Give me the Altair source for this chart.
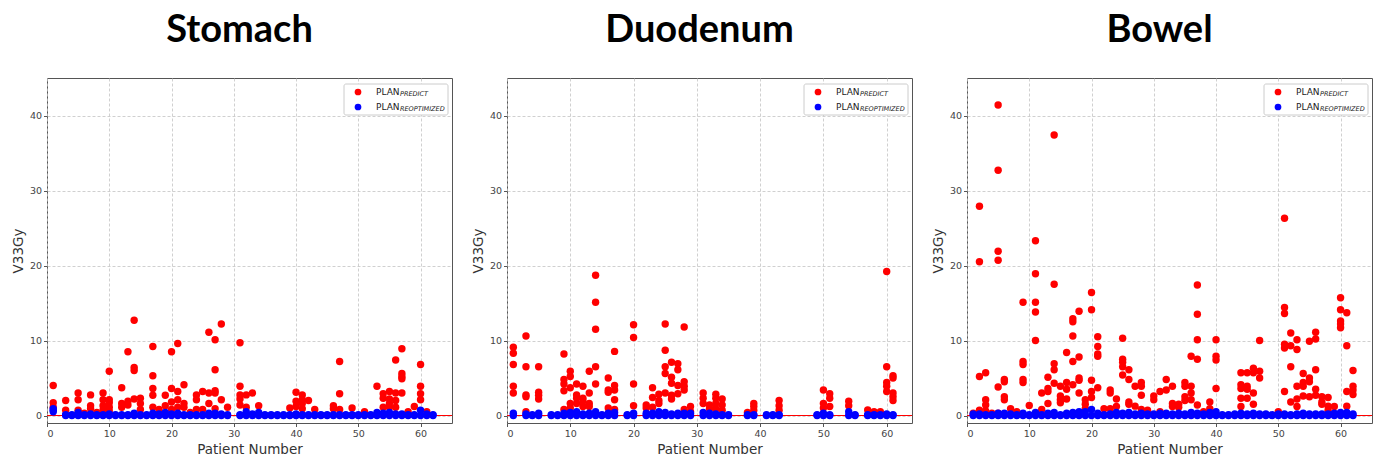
import altair as alt
import pandas as pd

ORGANS = ["Stomach", "Duodenum", "Bowel"]
PATIENT_TICKS = [0, 10, 20, 30, 40, 50, 60]
V33_TICKS = [0, 10, 20, 30, 40]
X_MAX = {"Stomach": 65.05, "Duodenum": 64.0, "Bowel": 65.05}
Y_DOMAIN = [-1, 45]
LEGEND_MAIN = ["PLAN", "PLAN"]
LEGEND_SUB = ["PREDICT", "REOPTIMIZED"]
SERIES_COLORS = ["#ff0000", "#0000ff"]

# ---- Stomach ----
STOMACH_PREDICT = {
    1: [4.0, 1.7, 1.1], 3: [2.0, 0.7], 5: [3.0, 2.1, 0.7], 6: [0.3],
    7: [2.75, 1.3, 0.9], 8: [0.4], 9: [3.0, 2.1, 1.3, 0.7],
    10: [5.9, 2.1, 1.7, 1.1, 0.6], 12: [3.7, 1.6, 1.1], 13: [8.5, 1.9, 1.4],
    14: [12.7, 6.4, 6.0, 2.2], 15: [2.3, 1.6, 0.8], 17: [9.2, 5.3, 3.6, 2.7, 1.1],
    18: [0.8], 19: [2.7, 1.3], 20: [8.5, 3.6, 1.8, 0.8], 21: [9.6, 3.2, 2.1, 1.1],
    22: [4.1, 1.6, 1.1], 23: [0.4], 24: [2.75, 2.1, 0.8], 25: [3.2, 0.8],
    26: [11.1, 3.0, 1.6], 27: [10.1, 6.1, 3.3, 3.0, 0.9], 28: [12.2, 2.1],
    29: [1.1], 31: [9.7, 3.9, 2.75, 2.2, 1.4], 32: [2.75, 1.1], 33: [3.0],
    34: [1.3], 39: [1.0], 40: [3.1, 1.9, 1.2], 41: [2.75, 2.1, 1.6, 0.9],
    42: [2.0], 43: [0.8], 46: [1.3, 0.9], 47: [7.2, 2.9, 0.8], 49: [1.0],
    51: [0.5], 53: [3.9], 54: [2.9, 2.3, 1.1], 55: [3.2, 2.2, 1.6, 1.1],
    56: [7.4, 3.0, 2.0, 1.1], 57: [8.9, 5.6, 5.2, 4.9, 3.0], 58: [0.5],
    59: [1.2], 60: [6.8, 3.9, 2.9, 2.1], 61: [0.5],
}
STOMACH_REOPT = {
    1: [0.5, 0.7, 0.9], 3: [0.0, 0.1], 4: [0.0, 0.1], 5: [0.0, 0.4], 6: [0.0, 0.1],
    7: [0.0, 0.2], 8: [0.0, 0.1], 9: [0.0, 0.1], 10: [0.0, 0.2], 11: [0.0, 0.1],
    12: [0.0, 0.1], 13: [0.0, 0.1], 14: [0.0, 0.3], 15: [0.0, 0.1], 16: [0.0, 0.1],
    17: [0.0, 0.3], 18: [0.0, 0.2], 19: [0.0, 0.4], 20: [0.0, 0.2], 21: [0.0, 0.3],
    22: [0.0, 0.1], 23: [0.0, 0.1], 24: [0.0, 0.1], 25: [0.0, 0.1], 26: [0.0, 0.3],
    27: [0.0, 0.3], 28: [0.0, 0.2], 29: [0.0, 0.1], 31: [0.0, 0.1], 32: [0.0, 0.5],
    33: [0.0, 0.2], 34: [0.0, 0.4], 35: [0.0, 0.1], 36: [0.0, 0.1], 37: [0.0, 0.1],
    38: [0.0, 0.1], 39: [0.0, 0.1], 40: [0.0, 0.2], 41: [0.0, 0.1], 42: [0.0, 0.1],
    43: [0.0, 0.1], 44: [0.0, 0.1], 45: [0.0, 0.1], 46: [0.0, 0.1], 47: [0.0, 0.1],
    48: [0.0, 0.1], 49: [0.0, 0.1], 50: [0.0, 0.1], 51: [0.0, 0.1], 52: [0.0, 0.1],
    53: [0.0, 0.4], 54: [0.0, 0.3], 55: [0.0, 0.4], 56: [0.0, 0.2], 57: [0.0, 0.2],
    58: [0.0, 0.1], 59: [0.0, 0.1], 60: [0.0, 0.7], 61: [0.0, 0.2], 62: [0.0, 0.1],
}

# ---- Duodenum ----
DUODENUM_PREDICT = {
    1: [9.1, 8.3, 6.8, 3.9, 3.0], 3: [10.6, 6.5, 2.75, 2.5, 0.5],
    5: [6.5, 3.1, 2.7, 2.2], 9: [8.2, 4.8, 4.2, 3.3, 0.8],
    10: [5.9, 5.2, 3.7, 1.6, 1.0], 11: [4.2, 2.75, 2.3, 1.6],
    12: [3.9, 2.3, 1.9, 1.2], 13: [5.9, 3.0, 1.6, 1.2],
    14: [18.7, 15.1, 11.5, 6.5, 4.2], 16: [5.0, 3.4, 3.1, 1.0],
    17: [8.55, 4.0, 3.4, 2.1, 0.8], 20: [12.1, 10.4, 4.2, 1.3],
    22: [1.4, 1.0], 23: [3.7, 2.4, 1.1], 24: [2.85, 2.0, 1.6],
    25: [12.2, 8.7, 6.5, 5.6, 3.0], 26: [7.1, 5.1, 4.3, 2.7, 2.2],
    27: [6.9, 6.1, 4.0, 2.9], 28: [11.8, 4.5, 3.9, 3.4, 0.8], 29: [1.2, 0.5],
    31: [3.0, 2.3, 1.6], 32: [1.4, 0.9], 33: [2.85, 2.3, 1.6, 0.9],
    34: [2.2, 1.4, 0.7], 38: [0.4], 39: [1.6, 1.2, 0.7], 43: [2.0, 1.3, 0.7],
    50: [3.4, 1.6, 1.0], 51: [2.9, 2.3, 1.2], 54: [1.9, 1.3], 57: [0.75],
    58: [0.5], 59: [0.5], 60: [19.2, 6.5, 4.4, 3.9, 3.2],
    61: [5.3, 5.0, 3.0, 2.5, 2.0],
}
DUODENUM_REOPT = {
    1: [0.0, 0.3], 3: [0.0, 0.2], 4: [0.0, 0.1], 5: [0.0, 0.3], 7: [0.0, 0.1],
    8: [0.0, 0.1], 9: [0.0, 0.3], 10: [0.0, 0.4], 11: [0.0, 0.5], 12: [0.0, 0.2],
    13: [0.0, 0.3], 14: [0.0, 0.5], 15: [0.0, 0.1], 16: [0.0, 0.3], 17: [0.0, 0.4],
    19: [0.0, 0.1], 20: [0.0, 0.3], 22: [0.0, 0.3], 23: [0.0, 0.3], 24: [0.0, 0.5],
    25: [0.0, 0.4], 26: [0.0, 0.2], 27: [0.0, 0.3], 28: [0.0, 0.3], 29: [0.0, 0.3],
    31: [0.0, 0.4], 32: [0.0, 0.3], 33: [0.0, 0.2], 34: [0.0, 0.1], 35: [0.0, 0.1],
    38: [0.0, 0.1], 39: [0.0, 0.1], 41: [0.0, 0.1], 42: [0.0, 0.1], 43: [0.0, 0.1],
    49: [0.0, 0.1], 50: [0.0, 0.3], 51: [0.0, 0.1], 54: [0.0, 0.5], 55: [0.0, 0.1],
    57: [0.0, 0.1], 58: [0.0, 0.1], 59: [0.0, 0.1], 60: [0.0, 0.2], 61: [0.0, 0.1],
}

# ---- Bowel ----
BOWEL_PREDICT = {
    1: [0.3], 2: [27.9, 20.5, 5.2, 0.7], 3: [5.7, 2.1, 1.4, 0.6], 4: [0.3],
    5: [41.4, 32.7, 21.9, 20.7, 3.8, 0.3], 6: [4.8, 4.5, 2.5, 2.1], 7: [0.9],
    8: [0.5], 9: [15.1, 7.2, 6.8, 4.8, 4.4], 10: [1.35],
    11: [23.3, 18.9, 15.1, 13.8, 10.0], 12: [3.0, 0.8], 13: [5.1, 3.6, 3.2, 1.6],
    14: [37.4, 17.5, 6.9, 6.1, 4.3], 15: [3.9, 2.6, 2.1, 1.7],
    16: [8.4, 4.4, 3.5, 2.2], 17: [12.9, 12.5, 10.6, 7.2, 4.1],
    18: [13.9, 7.8, 5.0, 4.7, 3.0], 19: [2.1, 1.5, 0.9],
    20: [16.4, 14.1, 4.7, 3.2, 2.4], 21: [10.5, 9.2, 8.2, 7.9, 3.7], 22: [0.9],
    23: [3.4, 3.0, 0.9], 24: [2.2, 1.2], 25: [10.3, 7.5, 7.1, 6.5, 5.4],
    26: [6.1, 4.8, 1.8, 1.5], 27: [3.9, 1.25], 28: [4.4, 3.9, 2.7, 0.8],
    29: [0.7], 30: [2.6, 2.1], 31: [3.2, 0.5], 32: [4.8, 3.4],
    33: [3.9, 1.6, 1.2], 34: [1.5, 1.1], 35: [4.4, 3.9, 2.5, 2.0],
    36: [7.9, 3.9, 3.0, 2.1], 37: [17.4, 13.5, 10.1, 7.5, 1.4], 38: [0.5],
    39: [1.8, 0.9], 40: [10.1, 7.9, 7.4, 3.6], 44: [5.7, 4.1, 3.6, 2.3, 1.2],
    45: [5.7, 3.9, 3.5, 2.3], 46: [6.3, 5.7, 3.0, 1.5], 47: [10.0, 5.9, 5.0],
    50: [0.5], 51: [26.3, 14.4, 13.6, 9.5, 9.0, 3.2], 52: [11.0, 9.3, 6.5, 1.8],
    53: [10.1, 8.8, 3.9, 2.2, 1.2], 54: [5.6, 4.4, 3.9, 2.6],
    55: [9.9, 5.0, 4.5, 2.5], 56: [11.1, 10.2, 6.1, 3.5, 2.7],
    57: [2.5, 1.8, 1.5], 58: [2.4, 1.25, 0.7], 59: [1.2],
    60: [15.7, 14.1, 12.6, 12.2, 11.7], 61: [13.7, 9.3, 3.2, 1.25],
    62: [6.0, 3.9, 3.4, 2.8],
}
BOWEL_REOPT = {
    1: [0.0, 0.2], 2: [0.0, 0.2], 3: [0.0, 0.1], 4: [0.0, 0.1], 5: [0.0, 0.3],
    6: [0.0, 0.3], 7: [0.0, 0.2], 8: [0.0, 0.1], 9: [0.0, 0.3], 10: [0.0, 0.1],
    11: [0.0, 0.4], 12: [0.0, 0.1], 13: [0.0, 0.3], 14: [0.0, 0.4], 15: [0.0, 0.1],
    16: [0.0, 0.3], 17: [0.0, 0.4], 18: [0.0, 0.5], 19: [0.0, 0.5], 20: [0.0, 0.8],
    21: [0.0, 0.3], 22: [0.0, 0.1], 23: [0.0, 0.2], 24: [0.0, 0.4], 25: [0.0, 0.3],
    26: [0.0, 0.4], 27: [0.0, 0.2], 28: [0.0, 0.3], 29: [0.0, 0.2], 30: [0.0, 0.2],
    31: [0.0, 0.3], 32: [0.0, 0.3], 33: [0.0, 0.2], 34: [0.0, 0.3], 35: [0.0, 0.2],
    36: [0.0, 0.4], 37: [0.0, 0.3], 38: [0.0, 0.2], 39: [0.0, 0.4], 40: [0.0, 0.5],
    41: [0.0, 0.1], 42: [0.0, 0.1], 43: [0.0, 0.2], 44: [0.0, 0.3], 45: [0.0, 0.2],
    46: [0.0, 0.3], 47: [0.0, 0.2], 48: [0.0, 0.2], 49: [0.0, 0.1], 50: [0.0, 0.2],
    51: [0.0, 0.2], 52: [0.0, 0.1], 53: [0.0, 0.2], 54: [0.0, 0.3], 55: [0.0, 0.2],
    56: [0.0, 0.2], 57: [0.0, 0.2], 58: [0.0, 0.2], 59: [0.0, 0.3], 60: [0.0, 0.4],
    61: [0.0, 0.4], 62: [0.0, 0.2],
}

DATA = {
    "Stomach": (STOMACH_PREDICT, STOMACH_REOPT),
    "Duodenum": (DUODENUM_PREDICT, DUODENUM_REOPT),
    "Bowel": (BOWEL_PREDICT, BOWEL_REOPT),
}

W, H = 405, 345
AXIS_FONT = "DejaVu Sans"


def to_frame(d):
    rows = [{"patient": p, "v33": v} for p, vals in d.items() for v in vals]
    return pd.DataFrame(rows)


def panel(organ):
    pred, reopt = DATA[organ]
    xs = alt.Scale(domain=[0, X_MAX[organ]], nice=False, zero=False)
    ys = alt.Scale(domain=Y_DOMAIN, nice=False, zero=False)
    x_axis = alt.Axis(values=PATIENT_TICKS, title="Patient Number", format="d")
    y_axis = alt.Axis(values=V33_TICKS, title="V33Gy", format="d")

    base_x = alt.X("patient:Q", scale=xs, axis=x_axis)
    base_y = alt.Y("v33:Q", scale=ys, axis=y_axis)

    zero_line = alt.Chart(pd.DataFrame({"v33": [0]})).mark_rule(
        color="#ff0000", strokeWidth=1.2
    ).encode(y=alt.Y("v33:Q", scale=ys, axis=y_axis))

    red = alt.Chart(to_frame(pred)).mark_circle(
        size=55, color=SERIES_COLORS[0], opacity=1
    ).encode(x=base_x, y=base_y)
    blue = alt.Chart(to_frame(reopt)).mark_circle(
        size=55, color=SERIES_COLORS[1], opacity=1
    ).encode(x=base_x, y=base_y)

    one = pd.DataFrame({"k": [0]})
    lx0 = W - 108
    box = alt.Chart(one).mark_rect(
        fill="white", stroke="#cccccc", strokeWidth=1, cornerRadius=2
    ).encode(x=alt.value(lx0), x2=alt.value(W - 4), y=alt.value(6), y2=alt.value(37))
    legend_layers = [box]
    for i in range(2):
        yy = 14 + 15 * i
        legend_layers.append(
            alt.Chart(one).mark_circle(size=45, color=SERIES_COLORS[i], opacity=1)
            .encode(x=alt.value(lx0 + 14), y=alt.value(yy))
        )
        legend_layers.append(
            alt.Chart(one).mark_text(
                text=LEGEND_MAIN[i], font=AXIS_FONT, fontSize=9, color="#222",
                align="left", baseline="middle"
            ).encode(x=alt.value(lx0 + 32), y=alt.value(yy))
        )
        legend_layers.append(
            alt.Chart(one).mark_text(
                text=LEGEND_SUB[i], font=AXIS_FONT, fontSize=6.5, fontStyle="italic",
                color="#222", align="left", baseline="middle"
            ).encode(x=alt.value(lx0 + 56), y=alt.value(yy + 2))
        )

    return alt.layer(zero_line, red, blue, *legend_layers).properties(
        width=W, height=H,
        title=alt.TitleParams(
            text=organ, font="Lato", fontSize=38, fontWeight="bold",
            color="black", anchor="middle", dx=-10, offset=28,
        ),
    )


chart = alt.hconcat(*[panel(o) for o in ORGANS], spacing=16).configure_view(
    stroke="#555555", strokeWidth=1
).configure_axis(
    domain=False,
    grid=True,
    gridColor="#c4c4c4",
    gridDash=[3, 2],
    gridWidth=0.8,
    ticks=True,
    tickColor="#555555",
    tickSize=3.5,
    labelFont=AXIS_FONT,
    labelFontSize=9.5,
    labelColor="#444444",
    labelPadding=2,
    titleFont=AXIS_FONT,
    titleFontSize=13.5,
    titleFontWeight="normal",
    titleColor="#333333",
    titlePadding=4,
).properties(
    padding={"left": 10, "top": 11, "right": 2, "bottom": 2},
    background="white",
)

chart.save("out.html", embed_options={"renderer": "svg", "actions": False})
